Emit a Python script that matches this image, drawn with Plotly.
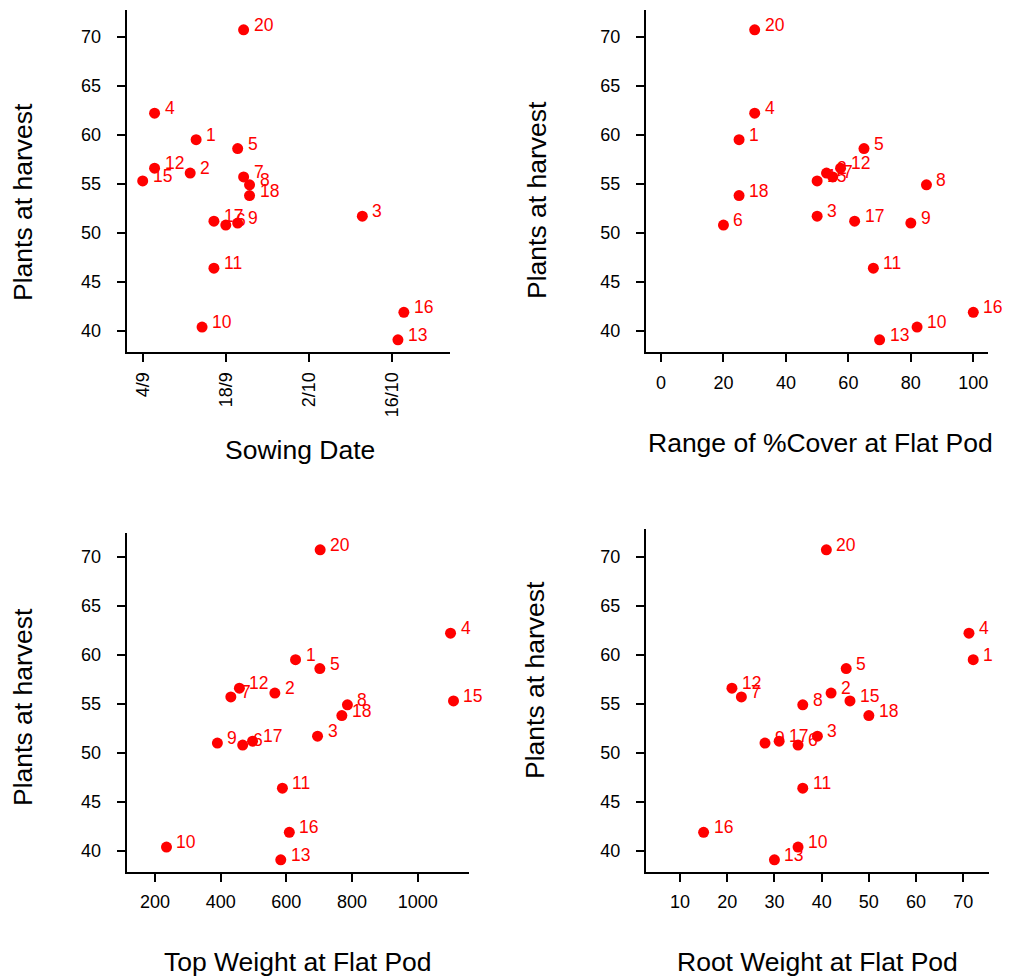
import pandas as pd
import plotly.graph_objects as go

# ---- data -------------------------------------------------------------
plot_ids = [1, 2, 3, 4, 5, 6, 7, 8, 9, 10, 11, 12, 13, 15, 16, 17, 18, 20]
sowing_date = ["2000-09-13", "2000-09-12", "2000-10-11", "2000-09-06", "2000-09-20",
               "2000-09-18", "2000-09-21", "2000-09-22", "2000-09-20", "2000-09-14",
               "2000-09-16", "2000-09-06", "2000-10-17", "2000-09-04", "2000-10-18",
               "2000-09-16", "2000-09-22", "2000-09-21"]
plants_at_harvest = [59.5, 56.1, 51.7, 62.2, 58.6, 50.8, 55.7, 54.9, 51.0, 40.4,
                     46.4, 56.6, 39.1, 55.3, 41.9, 51.2, 53.8, 70.7]
cover_range = [25, 53, 50, 30, 65, 20, 55, 85, 80, 82, 68, 57.5, 70, 50, 100, 62, 25, 30]
top_weight = [628, 565, 695, 1100, 702, 467, 431, 786, 390, 235, 588, 457, 583, 1109,
              609, 497, 769, 703]
root_weight = [72.1, 42, 39.1, 71.2, 45.2, 35, 23, 36, 28, 35, 36, 21, 30, 46, 15, 31, 50, 41]

date_ticks = ["2000-09-04", "2000-09-18", "2000-10-02", "2000-10-16"]
date_ticktext = ["4/9", "18/9", "2/10", "16/10"]
y_ticks = [40, 45, 50, 55, 60, 65, 70]

# ---- page geometry (pixels) ------------------------------------------
W, H = 1018, 978
FONT = "Liberation Sans, Arial, sans-serif"
RED = "#ff0000"


def fx(px):
    return px / W


def fy(py):
    return 1 - py / H


def lin_range(p0, p1, v_a, p_a, v_b, p_b):
    """Axis range so that value v_a sits at pixel p_a and v_b at p_b."""
    k = (v_b - v_a) / (p_b - p_a)
    return [v_a + (p0 - p_a) * k, v_a + (p1 - p_a) * k]


# panel boxes: (left, right, top, bottom)
boxes = {
    1: (126.7, 450.0, 10.0, 352.0),
    2: (646.0, 988.3, 10.0, 352.0),
    3: (126.7, 469.3, 533.3, 871.7),
    4: (646.0, 989.3, 529.3, 871.7),
}

axis_style = dict(
    showline=True, linecolor="black", linewidth=2, mirror=False,
    ticks="outside", ticklen=8, tickwidth=1.5, tickcolor="black",
    showgrid=False, zeroline=False,
    tickfont=dict(family=FONT, size=18, color="black"),
)

fig = go.Figure()

panels = [
    (1, sowing_date, "Sowing Date"),
    (2, cover_range, "Range of %Cover at Flat Pod"),
    (3, top_weight, "Top Weight at Flat Pod"),
    (4, root_weight, "Root Weight at Flat Pod"),
]

annotations = []
for n, xs, _ in panels:
    sfx = "" if n == 1 else str(n)
    fig.add_trace(go.Scatter(
        x=xs, y=plants_at_harvest, mode="markers",
        marker=dict(color=RED, size=11, line=dict(width=0)),
        xaxis="x" + sfx, yaxis="y" + sfx, showlegend=False, hoverinfo="skip",
    ))
    for pid, xv, yv in zip(plot_ids, xs, plants_at_harvest):
        annotations.append(dict(
            x=xv, y=yv, xref="x" + sfx, yref="y" + sfx, text=str(pid),
            showarrow=False, xanchor="left", yanchor="middle",
            xshift=8, yshift=5, font=dict(family=FONT, size=17.5, color=RED),
        ))

# x axes
l, r, t, b = boxes[1]
d0 = lin_range(l, r, 0, 142.7, 42, 392.0)
base = pd.Timestamp("2000-09-04")
x1_range = [str(base + pd.Timedelta(days=d0[0])), str(base + pd.Timedelta(days=d0[1]))]

layout_axes = {}
layout_axes["xaxis"] = dict(axis_style, type="date", domain=[fx(l), fx(r)],
                            range=x1_range, tickvals=date_ticks, ticktext=date_ticktext,
                            tickangle=-90, anchor="y", ticklabelstandoff=3)
l, r, t, b = boxes[2]
layout_axes["xaxis2"] = dict(axis_style, domain=[fx(l), fx(r)],
                             range=lin_range(l, r, 0, 661.0, 100, 973.3),
                             tickvals=[0, 20, 40, 60, 80, 100], anchor="y2",
                             ticklabelstandoff=5)
l, r, t, b = boxes[3]
layout_axes["xaxis3"] = dict(axis_style, domain=[fx(l), fx(r)],
                             range=lin_range(l, r, 200, 155.0, 1000, 417.7),
                             tickvals=[200, 400, 600, 800, 1000], anchor="y3",
                             ticklabelstandoff=5)
l, r, t, b = boxes[4]
layout_axes["xaxis4"] = dict(axis_style, domain=[fx(l), fx(r)],
                             range=lin_range(l, r, 10, 680.0, 70, 963.3),
                             tickvals=[10, 20, 30, 40, 50, 60, 70], anchor="y4",
                             ticklabelstandoff=5)

# y axes
y_refs = {1: (331.0, 36.7), 2: (331.0, 36.7), 3: (851.0, 556.7), 4: (851.0, 556.7)}
for n in range(1, 5):
    l, r, t, b = boxes[n]
    p40, p70 = y_refs[n]
    rng = lin_range(b, t, 40, p40, 70, p70)
    key = "yaxis" if n == 1 else "yaxis" + str(n)
    layout_axes[key] = dict(axis_style, domain=[fy(b), fy(t)], range=rng,
                            tickvals=y_ticks, anchor="x" if n == 1 else "x" + str(n),
                            ticklabelstandoff=12)

# axis titles
title_font = dict(family=FONT, size=26.5, color="black")
x_titles = [("Sowing Date", 299.5, 450.0), ("Range of %Cover at Flat Pod", 820.5, 443.0),
            ("Top Weight at Flat Pod", 298.0, 962.0), ("Root Weight at Flat Pod", 817.5, 962.0)]
for txt, px, py in x_titles:
    annotations.append(dict(x=fx(px), y=fy(py), xref="paper", yref="paper", text=txt,
                            showarrow=False, xanchor="center", yanchor="middle",
                            font=title_font))
y_titles = [(23.0, 202.0), (537.0, 200.0), (23.0, 707.0), (535.0, 680.0)]
for px, py in y_titles:
    annotations.append(dict(x=fx(px), y=fy(py), xref="paper", yref="paper",
                            text="Plants at harvest", textangle=-90,
                            showarrow=False, xanchor="center", yanchor="middle",
                            font=title_font))

fig.update_layout(
    width=W, height=H, margin=dict(l=0, r=0, t=0, b=0),
    paper_bgcolor="white", plot_bgcolor="white",
    annotations=annotations, **layout_axes,
)

fig.write_html("out.html")
